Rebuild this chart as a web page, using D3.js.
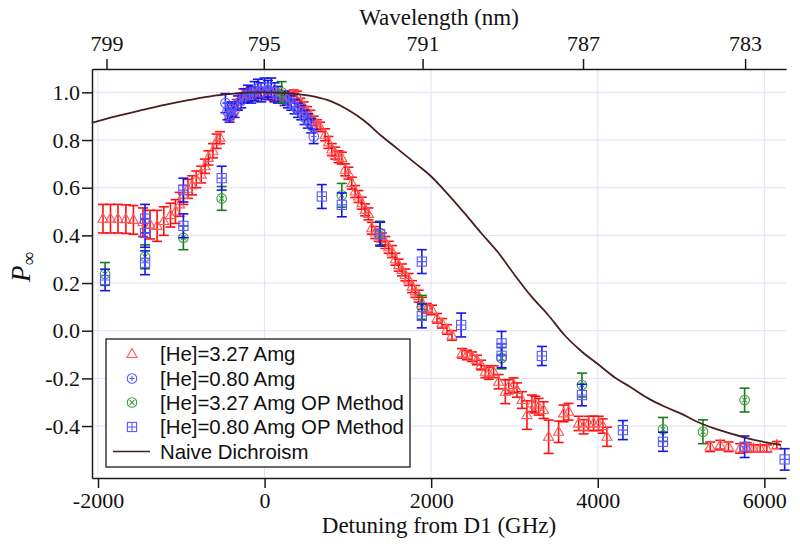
<!DOCTYPE html>
<html><head><meta charset="utf-8">
<script src="https://cdn.jsdelivr.net/npm/d3@7"></script>
<style>
body{margin:0;background:#fff}
.serif{font-family:"Liberation Serif","Tinos","Times New Roman",Times,"DejaVu Serif",serif}
.sans{font-family:"Liberation Sans",Arimo,Arial,Helvetica,sans-serif}
</style>
</head><body>
<svg id="c" width="800" height="547"></svg>
<script>
// ---------- DATA (detuning GHz, P, error) ----------
const he327 = [
[-1940,0.47,0.06],[-1850,0.47,0.06],[-1760,0.47,0.06],[-1665,0.468,0.06],[-1575,0.465,0.06],
[-1460,0.455,0.06],[-1375,0.445,0.06],[-1290,0.44,0.065],[-1210,0.46,0.06],[-1130,0.485,0.05],
[-1070,0.50,0.05],[-1020,0.53,0.05],[-975,0.57,0.04],[-920,0.595,0.04],[-870,0.61,0.04],
[-820,0.635,0.035],[-760,0.655,0.035],[-715,0.69,0.03],[-675,0.725,0.03],[-620,0.755,0.03],
[-575,0.795,0.03],[-535,0.81,0.025],[-420,0.905,0.02],[-380,0.925,0.02],[-335,0.95,0.02],
[-295,0.975,0.02],[-255,0.995,0.02],[-215,0.99,0.02],[-170,1.0,0.02],[-130,0.985,0.02],
[-90,1.0,0.02],[-50,0.995,0.02],[-10,1.0,0.02],[30,0.99,0.02],[70,1.0,0.02],[110,0.985,0.02],
[150,0.99,0.02],[190,0.975,0.02],[230,0.985,0.02],[270,0.97,0.02],[310,0.98,0.02],[350,0.99,0.02],
[390,0.985,0.02],[430,0.955,0.02],[470,0.94,0.02],[510,0.92,0.02],[550,0.905,0.02],[590,0.88,0.02],
[630,0.865,0.02],[667,0.855,0.02],[727,0.822,0.025],[767,0.79,0.025],[807,0.76,0.025],[847,0.745,0.025],
[887,0.73,0.025],[927,0.724,0.025],[967,0.675,0.025],[1007,0.661,0.025],[1047,0.619,0.025],
[1087,0.584,0.025],[1127,0.563,0.025],[1167,0.535,0.025],[1207,0.507,0.025],[1247,0.49,0.025],
[1287,0.43,0.025],[1330,0.412,0.025],[1370,0.40,0.025],[1410,0.385,0.025],[1450,0.37,0.025],
[1490,0.35,0.025],[1530,0.332,0.025],[1570,0.30,0.025],[1610,0.275,0.025],[1650,0.255,0.025],
[1690,0.234,0.025],[1730,0.215,0.025],[1770,0.185,0.025],[1810,0.165,0.025],[1850,0.145,0.025],
[1890,0.115,0.025],[1950,0.094,0.02],[2010,0.087,0.02],[2070,0.052,0.02],[2130,0.031,0.02],
[2190,0.005,0.02],[2250,-0.02,0.02],[2370,-0.095,0.02],[2430,-0.102,0.02],[2490,-0.109,0.02],
[2550,-0.123,0.02],[2600,-0.144,0.02],[2650,-0.172,0.025],[2690,-0.179,0.025],[2750,-0.172,0.025],
[2810,-0.214,0.03],[2890,-0.256,0.05],[2930,-0.235,0.03],[2990,-0.228,0.03],[3030,-0.249,0.03],
[3090,-0.291,0.035],[3150,-0.354,0.06],[3210,-0.305,0.035],[3250,-0.31,0.035],[3290,-0.319,0.035],
[3350,-0.333,0.035],[3410,-0.445,0.07],[3530,-0.424,0.045],[3590,-0.347,0.035],[3650,-0.34,0.035],
[3770,-0.389,0.03],[3830,-0.403,0.03],[3890,-0.389,0.03],[3950,-0.389,0.03],[4010,-0.389,0.03],
[4060,-0.40,0.03],[4110,-0.445,0.04],[5350,-0.487,0.02],[5470,-0.48,0.02],[5570,-0.487,0.02],
[5710,-0.494,0.02],[5790,-0.49,0.02],[5870,-0.494,0.015],[5950,-0.494,0.015],[6030,-0.494,0.015],
[6150,-0.48,0.015]
];
const he080 = [
[-470,0.955,0.04],[-445,0.92,0.035],[-420,0.905,0.03],[-395,0.93,0.03],[-360,0.925,0.03],
[-320,0.955,0.03],[-280,0.965,0.03],[-240,0.985,0.03],[-200,0.995,0.035],[-160,0.99,0.035],
[-120,1.005,0.04],[-80,1.015,0.04],[-40,1.0,0.04],[0,1.02,0.04],[40,1.01,0.04],[80,1.02,0.04],
[120,1.0,0.04],[160,0.99,0.035],[240,0.975,0.03],[280,0.965,0.03],[320,0.955,0.03],[360,0.94,0.03],
[400,0.925,0.03],[440,0.915,0.03],[480,0.895,0.03],[520,0.88,0.03],[560,0.86,0.03],[590,0.815,0.03]
];
const he327op = [
[-1915,0.238,0.048],[-1435,0.31,0.05],[-975,0.39,0.05],[-515,0.555,0.05],[205,1.0,0.045],
[927,0.568,0.05],[1387,0.409,0.05],[1888,0.098,0.05],[2845,-0.115,0.045],[3810,-0.228,0.05],
[4783,-0.414,0.05],[5263,-0.424,0.05],[5763,-0.291,0.05]
];
const he080op = [
[-1915,0.213,0.045],[-1435,0.47,0.06],[-1435,0.41,0.06],[-1435,0.285,0.05],[-975,0.59,0.05],
[-975,0.44,0.05],[-515,0.64,0.05],[687,0.563,0.05],[927,0.528,0.05],[1387,0.405,0.05],
[1888,0.29,0.05],[1888,0.062,0.05],[2360,0.024,0.05],[2845,-0.053,0.05],[2845,-0.105,0.05],
[3329,-0.106,0.04],[3810,-0.27,0.045],[4302,-0.417,0.04],[4783,-0.466,0.04],[5763,-0.487,0.045],
[6244,-0.54,0.045]
];
const naive = [
[-2075,0.872],[-1800,0.898],[-1500,0.923],[-1200,0.947],[-900,0.968],[-600,0.986],[-300,0.997],
[0,1.0],[300,0.996],[600,0.982],[800,0.962],[1000,0.927],[1200,0.88],[1400,0.818],[1600,0.762],
[1800,0.705],[2000,0.647],[2200,0.573],[2400,0.493],[2600,0.41],[2800,0.33],[3000,0.235],
[3200,0.145],[3400,0.068],[3600,-0.018],[3800,-0.085],[4000,-0.14],[4200,-0.195],[4400,-0.238],
[4600,-0.283],[4800,-0.318],[5000,-0.348],[5200,-0.383],[5400,-0.41],[5600,-0.432],[5800,-0.452],
[6000,-0.467],[6200,-0.479]
];
const xTicks = [-2000,0,2000,4000,6000];
const yTicks = [-0.4,-0.2,0.0,0.2,0.4,0.6,0.8,1.0];
const wlTicks = [799,795,791,787,783];
const legendLabels = ["[He]=3.27 Amg","[He]=0.80 Amg","[He]=3.27 Amg OP Method","[He]=0.80 Amg OP Method","Naive Dichroism"];

// ---------- CHART ----------
const svg = d3.select("#c");
const L=92, R=786, T=69, B=478;
const x = d3.scaleLinear().domain([-2072,6260]).range([L,R]);
const y = d3.scaleLinear().domain([-0.618,1.098]).range([B,T]);
const toDet = wl => 299792458/wl - 377107.463; // GHz

// grid
const g = svg.append("g");
g.selectAll(".gx").data(xTicks).join("line")
 .attr("x1",d=>x(d)).attr("x2",d=>x(d)).attr("y1",T).attr("y2",B)
 .attr("stroke","#e2e2f7").attr("stroke-width",1);
g.selectAll(".gy").data(yTicks).join("line")
 .attr("x1",L).attr("x2",R).attr("y1",d=>y(d)).attr("y2",d=>y(d))
 .attr("stroke","#e2e2f7").attr("stroke-width",1);

// axes
function styleAxis(sel){
  sel.attr("font-family",null).attr("font-size",null);
  sel.selectAll("path").attr("stroke","#1a1a1a").attr("stroke-width",1.5);
  sel.selectAll("line").attr("stroke","#1a1a1a").attr("stroke-width",1.5);
  sel.selectAll("text").attr("class","serif").style("font-size","22px").attr("fill","#111");
}
const ax = svg.append("g").attr("transform",`translate(0,${B})`)
 .call(d3.axisBottom(x).tickValues(xTicks).tickFormat(d=>String(d)).tickSize(10).tickSizeOuter(0).tickPadding(4));
styleAxis(ax);
const ay = svg.append("g").attr("transform",`translate(${L},0)`)
 .call(d3.axisLeft(y).tickValues(yTicks).tickFormat(d=>d.toFixed(1)).tickSize(10).tickSizeOuter(0).tickPadding(2));
styleAxis(ay);
const at = svg.append("g").attr("transform",`translate(0,${T})`)
 .call(d3.axisTop(x).tickValues(wlTicks.map(toDet)).tickFormat((d,i)=>String(wlTicks[i])).tickSize(10).tickSizeOuter(0).tickPadding(8));
styleAxis(at);

// titles
svg.append("text").attr("class","serif").attr("x",(L+R)/2).attr("y",25).attr("text-anchor","middle")
 .style("font-size","23px").attr("fill","#111").text("Wavelength (nm)");
svg.append("text").attr("class","serif").attr("x",(L+R)/2).attr("y",533).attr("text-anchor","middle")
 .style("font-size","23px").attr("fill","#111").text("Detuning from D1 (GHz)");
const yt = svg.append("text").attr("class","serif").attr("transform","translate(30,267) rotate(-90)").attr("text-anchor","middle")
 .attr("fill","#111");
yt.append("tspan").style("font-size","27px").style("font-style","italic").text("P");
yt.append("tspan").style("font-size","19px").attr("dy",5).text("∞");

// markers
const cols = {
 red:{bar:"#ff1010", mk:"#ff5555"},
 blue:{bar:"#1515f0", mk:"#5a5aff"},
 green:{bar:"#1c7a1c", mk:"#3d9a3d"}
};
function errbars(data, color){
  const gg = svg.append("g").attr("stroke",color).attr("stroke-width",1.6).attr("fill","none");
  data.forEach(d=>{
    const cx=x(d[0]), y1=y(d[1]-d[2]), y2=y(d[1]+d[2]);
    gg.append("line").attr("x1",cx).attr("x2",cx).attr("y1",y1).attr("y2",y2);
    gg.append("line").attr("x1",cx-5).attr("x2",cx+5).attr("y1",y1).attr("y2",y1);
    gg.append("line").attr("x1",cx-5).attr("x2",cx+5).attr("y1",y2).attr("y2",y2);
  });
}
function marker(gg, kind, cx, cy, color){
  const m = gg.append("g").attr("transform",`translate(${cx},${cy})`).attr("stroke",color).attr("stroke-width",1.1).attr("fill","none");
  if(kind==="tri"){
    m.append("path").attr("d","M0,-5.5L5,3.5L-5,3.5Z");
  } else if(kind==="cplus"){
    m.append("circle").attr("r",4.8);
    m.append("path").attr("d","M-2.6,0H2.6M0,-2.6V2.6");
  } else if(kind==="cx"){
    m.append("circle").attr("r",4.8);
    m.append("path").attr("d","M-2.4,-2.4L2.4,2.4M-2.4,2.4L2.4,-2.4");
  } else if(kind==="sq"){
    m.append("rect").attr("x",-4.6).attr("y",-4.6).attr("width",9.2).attr("height",9.2);
    m.append("path").attr("d","M-4.6,0H4.6M0,-4.6V4.6");
  }
}
function series(data, kind, c){
  errbars(data, c.bar);
  const gg = svg.append("g");
  data.forEach(d=>marker(gg, kind, x(d[0]), y(d[1]), c.mk));
}
series(he327,"tri",cols.red);
series(he080,"cplus",cols.blue);
series(he327op,"cx",cols.green);
series(he080op,"sq",cols.blue);

// naive dichroism curve
svg.append("path").datum(naive)
 .attr("d", d3.line().x(d=>x(d[0])).y(d=>y(d[1])).curve(d3.curveMonotoneX))
 .attr("fill","none").attr("stroke","#4a1e1e").attr("stroke-width",1.8);

// legend
const lg = svg.append("g");
lg.append("rect").attr("x",106).attr("y",339).attr("width",304).attr("height",128)
 .attr("fill","#fff").attr("stroke","#1a1a1a").attr("stroke-width",1.3);
const rows = [354,378.5,402.5,427,451.5];
const kinds = ["tri","cplus","cx","sq"];
const kcols = [cols.red,cols.blue,cols.green,cols.blue];
kinds.forEach((k,i)=>marker(lg,k,132,rows[i],kcols[i].mk));
lg.append("line").attr("x1",113).attr("x2",150).attr("y1",rows[4]).attr("y2",rows[4])
 .attr("stroke","#4a1e1e").attr("stroke-width",1.6);
lg.selectAll(".lt").data(legendLabels).join("text")
 .attr("class","sans").attr("x",160).attr("y",(d,i)=>rows[i]).attr("dy","0.36em")
 .style("font-size","20.4px").attr("fill","#111").text(d=>d);
</script>
</body></html>
